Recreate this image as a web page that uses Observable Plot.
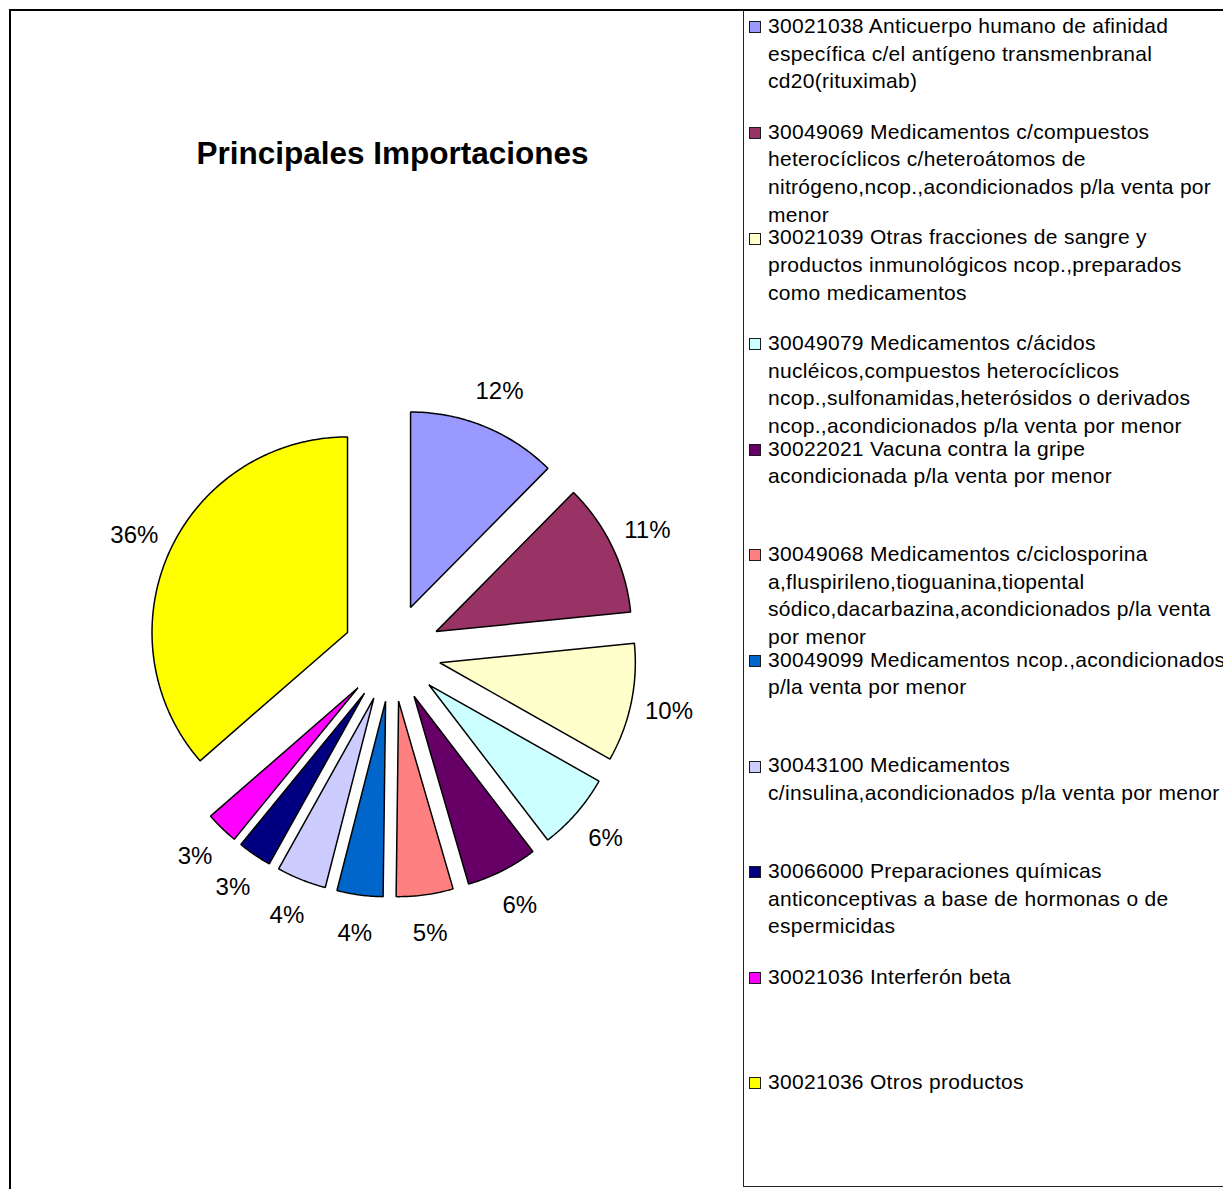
<!DOCTYPE html>
<html><head><meta charset="utf-8">
<script src="https://cdn.jsdelivr.net/npm/d3@7"></script>
<script src="https://cdn.jsdelivr.net/npm/@observablehq/plot@0.6"></script>
<style>
body{margin:0;background:#fff;}
#wrap{position:relative;width:1223px;height:1189px;overflow:hidden;font-family:"Liberation Sans",Arial,sans-serif;color:#000;background:#fff;}
#frame{position:absolute;left:9px;top:9px;width:1400px;height:1400px;border:2px solid #000;box-sizing:border-box;}
#legendBox{position:absolute;left:743px;top:10px;width:600px;height:1177px;border-left:1px solid #222;border-bottom:1px solid #222;box-sizing:border-box;}
#title{position:absolute;left:0;width:785px;text-align:center;top:138px;font-size:31.5px;font-weight:bold;line-height:31.5px;white-space:nowrap;}
#plot{position:absolute;left:0;top:0;}
.item{position:absolute;left:768px;font-size:21px;line-height:27.6px;white-space:pre;letter-spacing:0.3px;}
.sw{position:absolute;left:749px;width:10px;height:10px;border:1.5px solid #1a1a1a;}
</style></head><body>
<div id="wrap">
  <div id="frame"></div>
  <div id="legendBox"></div>
  <div id="plot"></div>
  <div id="title">Principales Importaciones</div>
  <div id="legend"></div>
</div>
<script>
// ---- data ----
const categories = [
  "30021038 Anticuerpo humano de afinidad\nespecífica c/el antígeno transmenbranal\ncd20(rituximab)",
  "30049069 Medicamentos c/compuestos\nheterocíclicos c/heteroátomos de\nnitrógeno,ncop.,acondicionados p/la venta por\nmenor",
  "30021039 Otras fracciones de sangre y\nproductos inmunológicos ncop.,preparados\ncomo medicamentos",
  "30049079 Medicamentos c/ácidos\nnucléicos,compuestos heterocíclicos\nncop.,sulfonamidas,heterósidos o derivados\nncop.,acondicionados p/la venta por menor",
  "30022021 Vacuna contra la gripe\nacondicionada p/la venta por menor",
  "30049068 Medicamentos c/ciclosporina\na,fluspirileno,tioguanina,tiopental\nsódico,dacarbazina,acondicionados p/la venta\npor menor",
  "30049099 Medicamentos ncop.,acondicionados\np/la venta por menor",
  "30043100 Medicamentos\nc/insulina,acondicionados p/la venta por menor",
  "30066000 Preparaciones químicas\nanticonceptivas a base de hormonas o de\nespermicidas",
  "30021036 Interferón beta",
  "30021036 Otros productos"
];
const shares = [12.4, 11.0, 9.8, 6.4, 5.9, 4.7, 3.8, 4.1, 2.8, 2.7, 36.4];
const colors = ["#9999FF","#993366","#FFFFCC","#CCFFFF","#660066","#FF8080","#0066CC","#CCCCFF","#000080","#FF00FF","#FFFF00"];

// ---- layout ----
const W = 740, H = 1189;
const CX = 391.5, CY = 652.2, R = 195.5;
const EXPLODE = 0.25;      // in radius units
const LABEL_DIST = 1.448;  // in radius units from pie centre

const n = shares.length;
const total = d3.sum(shares);
const arcs = d3.pie().sort(null).value(d => d)(shares);

const pts = [];
const labels = [];
arcs.forEach((s, i) => {
  const m = (s.startAngle + s.endAngle) / 2;
  const ox = EXPLODE * Math.sin(m), oy = EXPLODE * Math.cos(m);
  pts.push({i, x: ox, y: oy});
  const steps = Math.max(2, Math.ceil((s.endAngle - s.startAngle) / 0.01));
  for (let k = 0; k <= steps; k++) {
    const a = s.startAngle + (s.endAngle - s.startAngle) * k / steps;
    pts.push({i, x: ox + Math.sin(a), y: oy + Math.cos(a)});
  }
  labels.push({
    x: LABEL_DIST * Math.sin(m),
    y: LABEL_DIST * Math.cos(m),
    text: Math.round(shares[i] / total * 100) + "%"
  });
});

const chart = Plot.plot({
  width: W, height: H, margin: 0,
  style: {fontFamily: "'Liberation Sans', Arial, sans-serif", background: "transparent", overflow: "visible"},
  x: {domain: [-CX / R, (W - CX) / R], range: [0, W], axis: null},
  y: {domain: [-(H - CY) / R, CY / R], range: [H, 0], axis: null},
  color: {type: "ordinal", domain: d3.range(n), range: colors},
  marks: [
    Plot.line(pts, {x: "x", y: "y", z: "i", fill: "i", stroke: "#000", strokeWidth: 1.5, strokeLinejoin: "miter", curve: "linear-closed"}),
    Plot.text(labels, {x: "x", y: "y", text: "text", fontSize: 24, fill: "#000"})
  ]
});
document.getElementById("plot").appendChild(chart);

// legend
const leg = document.getElementById("legend");
categories.forEach((c, i) => {
  const base = 33.3 + 105.6 * i;
  const t = document.createElement("div");
  t.className = "item";
  t.style.top = (base - 21.1) + "px";
  t.textContent = c;
  leg.appendChild(t);
  const sw = document.createElement("div");
  sw.className = "sw";
  sw.style.top = (base - 12) + "px";
  sw.style.background = colors[i];
  leg.appendChild(sw);
});
</script>
</body></html>
